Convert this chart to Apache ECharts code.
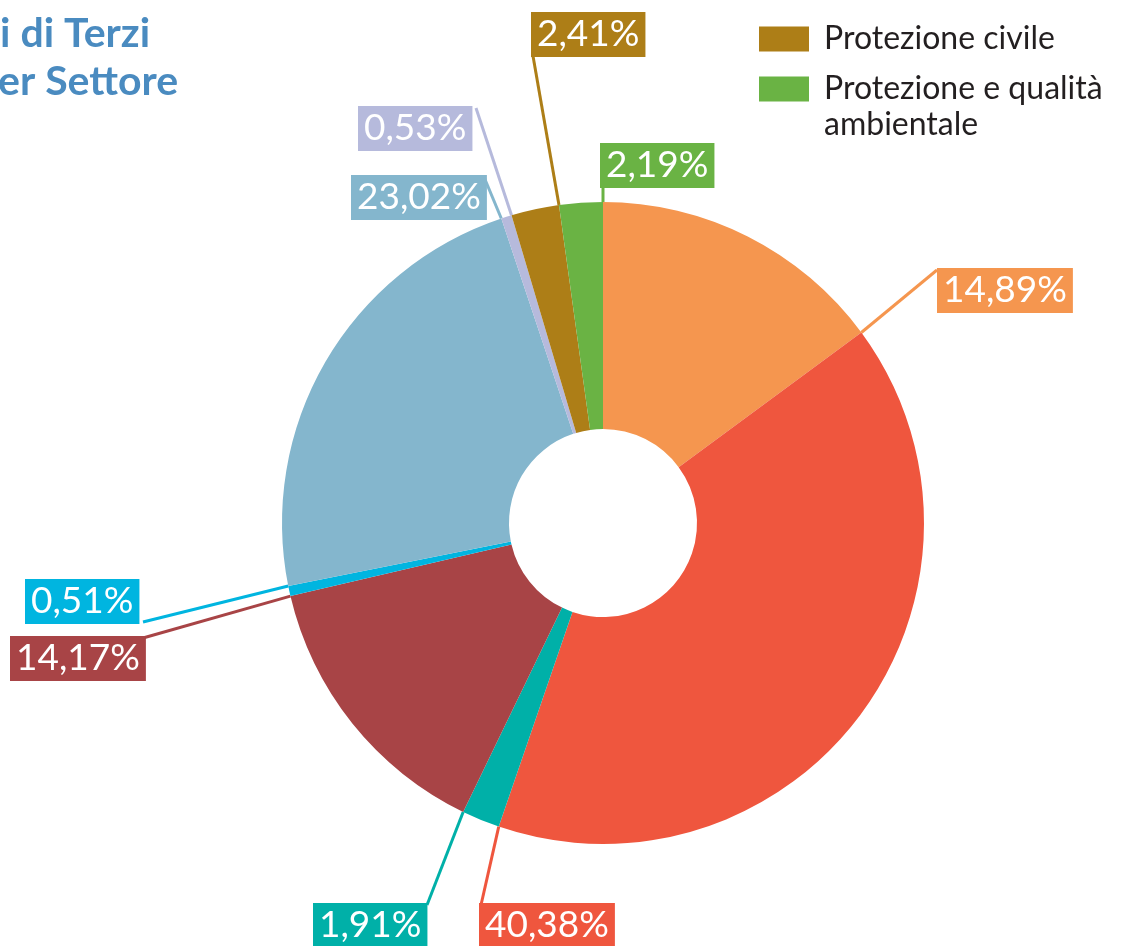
<!DOCTYPE html>
<html>
<head>
<meta charset="utf-8">
<script src="https://cdn.jsdelivr.net/npm/echarts@6/dist/echarts.min.js"></script>
<style>
  html, body { margin: 0; padding: 0; background: #fff; }
  #main { width: 1122px; height: 946px; }
</style>
</head>
<body>
<div id="main"></div>
<script>
// dati del grafico (percentuali per settore, in senso orario dalle ore 12)
var sectors = ['Settore A', 'Settore B', 'Settore C', 'Settore D', 'Settore E',
  'Settore F', 'Settore G', 'Protezione civile', 'Protezione e qualità ambientale']
var percents = [14.89, 40.38, 1.91, 14.17, 0.51, 23.02, 0.53, 2.41, 2.19]
var colors = ['#F5964F', '#EF563E', '#00B0A8', '#A84446', '#00B5E0',
  '#84B6CD', '#B6BADC', '#AD7E17', '#6AB344']
var legendNames = ['Protezione civile', 'Protezione e qualità ambientale']

// posizione delle etichette (angolo in alto a sinistra) e fine della linea guida
var labelPos = [[937, 268], [479, 903], [313, 903], [10, 636], [25, 579],
  [351, 175], [358, 106], [531, 12], [600, 143]]
var lineEnds = [[937, 270], [481, 905], [427, 905], [143, 638], [143, 622],
  [484, 177], [476, 108], [533, 56], [603, 188]]

var cx = 603, cy = 523, rIn = 94, rOut = 321
var font = 'Lato'

var chart = echarts.init(document.getElementById('main'))

var total = 0
for (var i = 0; i < percents.length; i++) total += percents[i]

// punto sul bordo esterno alla fine della fetta
function sliceEnd(idx) {
  var cum = 0
  for (var i = 0; i <= idx; i++) cum += percents[i]
  var a = 2 * Math.PI * cum / total
  return [cx + rOut * Math.sin(a), cy - rOut * Math.cos(a)]
}

var pieData = []
for (var i = 0; i < percents.length; i++) {
  pieData.push({
    name: sectors[i],
    value: percents[i],
    itemStyle: { color: colors[i] },
    label: { backgroundColor: colors[i] }
  })
}

var option = {
  animation: false,
  title: [{
    text: 'i di Terzi',
    left: 0,
    top: 13,
    padding: 0,
    textStyle: { color: '#4A8BC0', fontFamily: font, fontWeight: 'bold', fontSize: 41 }
  }, {
    text: 'er Settore',
    left: -2,
    top: 61,
    padding: 0,
    textStyle: { color: '#4A8BC0', fontFamily: font, fontWeight: 'bold', fontSize: 41 }
  }],
  legend: [{
    data: [legendNames[0]],
    orient: 'vertical',
    left: 759,
    top: 23,
    padding: 0,
    icon: 'rect',
    itemWidth: 50,
    itemHeight: 25,
    selectedMode: false,
    textStyle: { color: '#231F20', fontFamily: font, fontSize: 32, padding: [0, 0, 0, 10] }
  }, {
    data: [legendNames[1]],
    orient: 'vertical',
    left: 759,
    top: 35,
    padding: 0,
    icon: 'rect',
    itemWidth: 50,
    itemHeight: 25,
    selectedMode: false,
    // riga vuota in testa: la prima riga resta allineata al quadratino
    formatter: function (name) {
      return '\nProtezione e qualità\nambientale'
    },
    textStyle: {
      color: '#231F20', fontFamily: font, fontSize: 32, lineHeight: 36,
      padding: [0, 0, 0, 10]
    }
  }],
  series: [{
    type: 'pie',
    center: [cx, cy],
    radius: [rIn, rOut],
    startAngle: 90,
    clockwise: true,
    avoidLabelOverlap: false,
    itemStyle: { borderWidth: 0 },
    label: {
      show: true,
      position: 'outside',
      color: '#fff',
      fontFamily: font,
      fontSize: 37,
      lineHeight: 37,
      padding: [4, 6, 4, 6],
      formatter: function (p) {
        return p.value.toFixed(2).replace('.', ',') + '%'
      }
    },
    labelLine: {
      show: true,
      length: 20,
      length2: 10,
      lineStyle: { width: 3 }
    },
    labelLayout: function (params) {
      var i = params.dataIndex
      var s = sliceEnd(i)
      var e = lineEnds[i]
      return {
        x: labelPos[i][0],
        y: labelPos[i][1],
        align: 'left',
        verticalAlign: 'top',
        labelLinePoints: [s, e, e]
      }
    },
    emphasis: { disabled: true },
    data: pieData
  }]
}

chart.setOption(option)
</script>
</body>
</html>
